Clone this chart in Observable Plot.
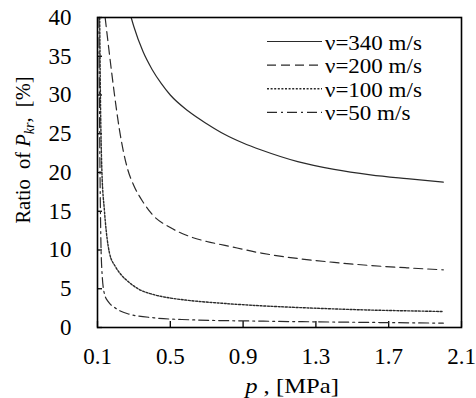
<!DOCTYPE html>
<html><head><meta charset="utf-8">
<script src="https://cdn.jsdelivr.net/npm/d3@7"></script>
<script src="https://cdn.jsdelivr.net/npm/@observablehq/plot@0.6"></script>
<style>
body{margin:0;background:#fff}
svg, svg text{font-family:"Times New Roman","Liberation Serif",serif !important}
</style>
</head><body><div id="chart"></div>
<script>
// ---- data ----
const seriesNames = ["ν=340 m/s", "ν=200 m/s", "ν=100 m/s", "ν=50 m/s"];

const p340 = [0.285,0.3,0.35,0.4,0.45,0.5,0.6,0.7,0.8,0.9,1.0,1.2,1.4,1.6,1.8,2.0];
const r340 = [40,38.8,35.6,33.3,31.5,30.0,27.9,26.3,24.9,23.8,22.9,21.4,20.4,19.7,19.2,18.75];

const p200 = [0.142,0.166,0.193,0.22,0.266,0.3,0.35,0.4,0.5,0.6,0.7,0.8,1.0,1.2,1.4,1.6,1.8,2.0];
const r200 = [40,35.2,30.1,25.6,20.4,18.3,16.2,14.6,12.9,11.8,11.1,10.6,9.6,8.9,8.4,8.0,7.7,7.44];

const p100 = [0.112,0.116,0.124,0.138,0.166,0.2,0.23,0.27,0.33,0.4,0.5,0.6,0.8,1.0,1.2,1.4,1.6,1.8,2.0];
const r100 = [40,30,20.3,15.1,9.6,7.8,6.8,5.9,4.9,4.3,3.8,3.5,3.1,2.8,2.58,2.4,2.25,2.15,2.06];

const p50 = [0.108,0.112,0.118,0.125,0.138,0.16,0.193,0.266,0.41,0.6,1.0,1.5,2.0];
const r50 = [40,25,12,7,4.35,3.3,2.6,1.77,1.25,1.0,0.82,0.68,0.56];

const xTicks = [0.1, 0.5, 0.9, 1.3, 1.7, 2.1];
const yTicks = [0, 5, 10, 15, 20, 25, 30, 35, 40];

// ---- layout & styles ----
const W = 476, H = 398, mL = 97, mR = 15, mT = 17, mB = 71;
const frameW = W - mL - mR, frameH = H - mT - mB;
const dashes = [null, "9,5", "2,1.6", "10,4,2,4"];
const lineColor = "#2a2a2a";
const FONT = "Times New Roman, Liberation Serif, serif";

const rows = (ps, rs, s) => ps.map((p, i) => ({p, r: rs[i], s}));
const allSeries = [
  rows(p340, r340, seriesNames[0]),
  rows(p200, r200, seriesNames[1]),
  rows(p100, r100, seriesNames[2]),
  rows(p50, r50, seriesNames[3])
];

const chart = Plot.plot({
  width: W, height: H,
  marginLeft: mL, marginRight: mR, marginTop: mT, marginBottom: mB,
  style: {fontFamily: FONT, fontSize: "23px", color: "#000", background: "#fff", overflow: "visible"},
  x: {domain: [0.1, 2.1]},
  y: {domain: [0, 40]},
  marks: [
    Plot.axisX({ticks: xTicks, tickSize: 0, tickPadding: 20, tickFormat: d3.format(".1f"), label: null, fontSize: 23}),
    Plot.axisY({ticks: yTicks, tickSize: 0, tickPadding: 26, label: null, fontSize: 23}),
    // inward tick marks
    Plot.tickX(xTicks, {x: d => d, insetTop: frameH - 6, stroke: "#000", strokeWidth: 1.3}),
    Plot.tickY(yTicks, {y: d => d, insetRight: frameW - 5, stroke: "#000", strokeWidth: 1.3}),
    ...allSeries.map((data, i) => Plot.line(data, {
      x: "p", y: "r", curve: "monotone-x",
      stroke: lineColor, strokeWidth: i === 2 ? 1.4 : 1.2,
      strokeDasharray: dashes[i]
    })),
    Plot.frame({stroke: "#000", strokeWidth: 1.6})
  ]
});
document.getElementById("chart").appendChild(chart);

const svg = d3.select(chart);
svg.selectAll("text").attr("font-family", FONT);

// y-axis label with subscript
const yl = svg.append("text")
  .attr("transform", "translate(30,150) rotate(-90)")
  .attr("text-anchor", "middle")
  .attr("font-family", FONT)
  .attr("font-size", 20.5)
  .attr("fill", "#000");
yl.append("tspan").text("Ratio  of ").attr("style", "white-space:pre");
yl.append("tspan").text("P").attr("font-style", "italic");
yl.append("tspan").text("kr").attr("font-style", "italic").attr("font-size", 14).attr("dy", 4);
yl.append("tspan").text(",").attr("font-style", "italic").attr("dy", -4);
yl.append("tspan").text("  [%]").attr("style", "white-space:pre");

// x-axis label
const xl = svg.append("text")
  .attr("transform", "translate(292,393) scale(1.12,1)")
  .attr("text-anchor", "middle")
  .attr("font-family", FONT)
  .attr("font-size", 22)
  .attr("fill", "#000");
xl.append("tspan").text("p").attr("font-style", "italic");
xl.append("tspan").text(" , [MPa]").attr("style", "white-space:pre");

// legend
const lg = svg.append("g");
seriesNames.forEach((name, i) => {
  const yb = 49.5 + 23.6 * i;
  lg.append("line")
    .attr("x1", 267).attr("x2", 322)
    .attr("y1", yb - 8).attr("y2", yb - 8)
    .attr("stroke", lineColor).attr("stroke-width", i === 2 ? 1.4 : 1.2)
    .attr("stroke-dasharray", dashes[i]);
  lg.append("text")
    .attr("transform", `translate(325,${yb}) scale(1.15,1)`)
    .attr("text-anchor", "start")
    .attr("font-family", FONT)
    .attr("font-size", 20).attr("fill", "#000")
    .text(name);
});
</script>
</body></html>
